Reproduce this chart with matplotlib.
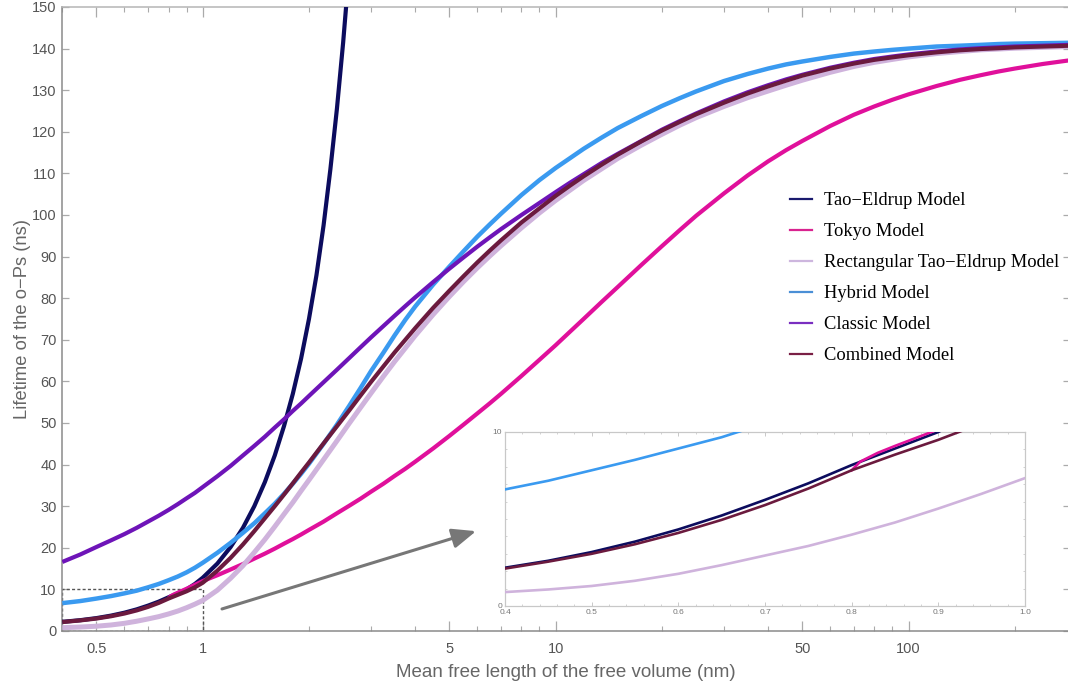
import numpy as np
import matplotlib.pyplot as plt
from matplotlib.lines import Line2D
from matplotlib.patches import Rectangle
from matplotlib.ticker import FixedLocator, FixedFormatter, NullFormatter, MultipleLocator

# mean free length (nm) shared by most of the models
x_nm = [0.4, 0.45, 0.5, 0.55, 0.6, 0.65, 0.7, 0.75, 0.8, 0.85, 0.9, 0.95,
        1.0, 1.1, 1.2, 1.3, 1.4, 1.5, 1.6, 1.7, 1.8, 1.9,
        2.0, 2.2, 2.4, 2.6, 2.8,
        3.0, 3.25, 3.5, 3.75, 4.0, 4.5,
        5.0, 5.5, 6, 6.5, 7, 8, 9,
        10, 11, 12, 13.5, 15, 17.5,
        20, 22.5, 25, 30, 35, 40, 45,
        50, 60, 70, 80, 90,
        100, 120, 140, 160, 180,
        200, 240, 287]

# o-Ps lifetime (ns) per model
hybrid = [6.7, 7.2, 7.8, 8.4, 9.05, 9.7, 10.5, 11.3, 12.2, 13.1, 14.1, 15.2,
          16.4, 18.8, 21.2, 23.6, 25.9, 28.3, 30.6, 33.0, 35.4, 37.8,
          40.2, 45.0, 49.6, 54.1, 58.4,
          62.5, 66.9, 71.1, 74.8, 78.0, 83.3,
          87.6, 91.4, 94.8, 97.7, 100.3, 104.8, 108.4,
          111.3, 113.7, 115.9, 118.6, 120.9, 123.8,
          126.2, 128.1, 129.7, 132.2, 133.9, 135.2, 136.2,
          136.9, 138.0, 138.8, 139.3, 139.7,
          140.0, 140.5, 140.7, 140.9, 141.1,
          141.2, 141.3, 141.4]

classic = [16.6, 18.4, 20.2, 21.8, 23.3, 24.8, 26.3, 27.7, 29.1, 30.5, 31.9, 33.2,
           34.6, 37.2, 39.7, 42.2, 44.5, 46.7, 48.9, 50.9, 52.9, 54.7,
           56.5, 59.8, 62.8, 65.6, 68.2,
           70.6, 73.3, 75.8, 78.1, 80.2, 83.9,
           87.1, 89.9, 92.4, 94.6, 96.6, 100.0, 102.9,
           105.5, 107.8, 109.8, 112.5, 114.7, 117.8,
           120.5, 122.6, 124.4, 127.3, 129.5, 131.2, 132.6,
           133.7, 135.4, 136.6, 137.5, 138.1,
           138.6, 139.3, 139.8, 140.1, 140.3,
           140.5, 140.7, 140.9]

combined = [2.15, 2.55, 3.0, 3.55, 4.2, 4.95, 5.8, 6.75, 7.8, 8.7, 9.55, 10.5,
            11.6, 14.5, 17.6, 20.8, 24.0, 27.1, 30.0, 32.8, 35.5, 38.1,
            40.5, 45.1, 49.2, 53.0, 56.6,
            59.9, 63.6, 67.0, 70.0, 72.8, 77.7,
            81.8, 85.4, 88.6, 91.4, 93.9, 98.2, 101.6,
            104.6, 107.1, 109.3, 112.1, 114.5, 117.7,
            120.3, 122.4, 124.2, 127.0, 129.2, 130.9, 132.3,
            133.5, 135.2, 136.4, 137.3, 137.9,
            138.4, 139.1, 139.6, 139.9, 140.1,
            140.3, 140.5, 140.7]

rect_te = [0.8, 0.95, 1.15, 1.45, 1.85, 2.35, 2.9, 3.45, 4.1, 4.8, 5.6, 6.45,
           7.35, 9.8, 12.7, 15.7, 18.9, 22.0, 25.1, 28.1, 30.9, 33.7,
           36.3, 41.2, 45.7, 49.9, 53.7,
           57.2, 61.2, 64.8, 68.0, 71.0, 76.1,
           80.4, 84.1, 87.3, 90.1, 92.6, 96.9, 100.5,
           103.5, 106.0, 108.3, 111.1, 113.6, 116.8,
           119.4, 121.6, 123.4, 126.1, 128.2, 129.8, 131.2,
           132.4, 134.3, 135.7, 136.7, 137.4,
           138.0, 138.8, 139.3, 139.7, 139.9,
           140.1, 140.3, 140.5]

# tao-eldrup leaves the plot early
x_te = [0.4, 0.45, 0.5, 0.55, 0.6, 0.65, 0.7, 0.75, 0.8, 0.85, 0.9, 0.95,
        1.0, 1.1, 1.2, 1.3, 1.4, 1.5, 1.6, 1.7, 1.8, 1.9,
        2.0, 2.1, 2.2, 2.3, 2.4, 2.5, 2.6]
tao_eldrup = [2.2, 2.6, 3.1, 3.7, 4.4, 5.2, 6.1, 7.05, 8.1, 9.05, 10.0, 11.3,
              12.8, 16.2, 20.2, 24.8, 30.0, 35.8, 42.2, 49.3, 57.0, 65.5,
              75.0, 85.5, 97.5, 111.0, 125.5, 141.5, 159.0]

# tokyo model starts at 0.8 nm
x_tokyo = [0.8, 0.81, 0.83, 0.85, 0.9, 0.95,
           1.0, 1.1, 1.2, 1.3, 1.4, 1.5, 1.6, 1.7, 1.8, 1.9,
           2.0, 2.2, 2.4, 2.6, 2.8,
           3.0, 3.25, 3.5, 3.75, 4.0, 4.5,
           5.0, 5.5, 6, 6.5, 7, 8, 9,
           10, 11, 12, 13.5, 15, 17.5,
           20, 22.5, 25, 30, 35, 40, 45,
           50, 60, 70, 80, 90,
           100, 120, 140, 160, 180,
           200, 240, 287]
tokyo = [7.8, 8.3, 8.8, 9.2, 10.15, 11.1,
         12.0, 13.4, 14.8, 16.1, 17.4, 18.6, 19.8, 21.0, 22.1, 23.2,
         24.3, 26.3, 28.3, 30.1, 31.8,
         33.5, 35.4, 37.3, 39.0, 40.7, 43.9,
         46.9, 49.7, 52.3, 54.7, 57.0, 61.3, 65.2,
         68.7, 72.0, 75.0, 79.1, 82.7, 88.0,
         92.5, 96.4, 99.8, 105.2, 109.5, 112.9, 115.6,
         117.8, 121.4, 124.1, 126.1, 127.7,
         129.0, 131.0, 132.5, 133.6, 134.5,
         135.2, 136.3, 137.2]

x_major = [0.5, 1, 5, 10, 50, 100]
x_major_labels = ["0.5", "1", "5", "10", "50", "100"]
x_minor = [0.4, 0.6, 0.7, 0.8, 0.9, 2, 3, 4, 6, 7, 8, 9,
           20, 30, 40, 60, 70, 80, 90, 200]

models = [
    ("Tao\u2212Eldrup Model", x_te, tao_eldrup, "#0c0c5e", 3.0),
    ("Tokyo Model", x_tokyo, tokyo, "#e0109b", 3.0),
    ("Rectangular Tao\u2212Eldrup Model", x_nm, rect_te, "#cfb3dc", 3.6),
    ("Hybrid Model", x_nm, hybrid, "#3a9af0", 3.2),
    ("Classic Model", x_nm, classic, "#6e14b8", 3.0),
    ("Combined Model", x_nm, combined, "#6b1a3e", 3.0),
]
legend_colors = ["#1a1a6e", "#d9238f", "#cdb6de", "#4a8fd6", "#7a2ec0", "#7a1f45"]

grey = "#666666"
plt.rcParams["font.family"] = ["Liberation Sans", "DejaVu Sans"]

fig = plt.figure(figsize=(10.68, 6.88), dpi=100)
W, H = 1068, 688
ax = fig.add_axes([62.3 / W, (H - 631) / H, (1070.1 - 62.3) / W, (631 - 7) / H])

for name, xs, ys, col, lw in models:
    ax.plot(xs, ys, color=col, lw=lw, solid_capstyle="butt",
            solid_joinstyle="round", zorder=3)

ax.set_xscale("log")
ax.set_xlim(0.4, 287)
ax.set_ylim(0, 150)

ax.xaxis.set_major_locator(FixedLocator(x_major))
ax.xaxis.set_major_formatter(FixedFormatter(x_major_labels))
ax.xaxis.set_minor_locator(FixedLocator(x_minor))
ax.xaxis.set_minor_formatter(NullFormatter())
ax.yaxis.set_major_locator(MultipleLocator(10))
ax.yaxis.set_minor_locator(FixedLocator([]))

ax.tick_params(which="both", direction="in", top=True, right=True,
               color="#aaaaaa", labelcolor="#555555", labelsize=10.5)
ax.tick_params(axis="x", which="major", length=7, width=0.9, pad=8)
ax.tick_params(axis="x", which="minor", length=3.8, width=0.8)
ax.tick_params(axis="y", which="major", length=5, width=0.9, pad=4)

for s in ["left", "bottom"]:
    ax.spines[s].set_color("#8a8a8a")
    ax.spines[s].set_linewidth(1.1)
for s in ["top", "right"]:
    ax.spines[s].set_color("#b5b5b5")
    ax.spines[s].set_linewidth(1.1)

ax.set_xlabel("Mean free length of the free volume (nm)", fontsize=13.5, color=grey)
ax.set_ylabel("Lifetime of the o\u2212Ps (ns)", fontsize=13.2, color=grey)
ax.xaxis.set_label_coords(0.5, -0.053)
ax.yaxis.set_label_coords(-0.031, 0.5)

# dashed frame around the zoomed region
ax.add_patch(Rectangle((0.4, 0), 0.6, 10, fill=False, ls=(0, (2.2, 1.6)),
                       lw=1.0, ec="#555555", zorder=2))

# arrow pointing to the inset
ax.annotate("", xy=(5.95, 24.0), xytext=(1.134, 5.3),
            arrowprops=dict(arrowstyle="-|>,head_length=1.45,head_width=0.6",
                            color="#777777", lw=2.2, shrinkA=0, shrinkB=0),
            zorder=4)

handles = [Line2D([], [], color=c, lw=1.6) for c in legend_colors]
labels = [m[0] for m in models]
fig.legend(handles, labels, loc="upper left", bbox_to_anchor=(790 / W, 1 - 192 / H),
           frameon=False, borderpad=0, borderaxespad=0, handlelength=1.19,
           handletextpad=0.65, labelspacing=0.76,
           prop={"family": "Liberation Serif", "size": 13.3})

# inset with the small-length region
axin = fig.add_axes([505 / W, (H - 606) / H, 520 / W, 174 / H])
for name, xs, ys, col, lw in models:
    axin.plot(xs, ys, color=col, lw=1.9, zorder=3)
axin.set_xlim(0.4, 1.0)
axin.set_ylim(0, 10)
axin.xaxis.set_major_locator(MultipleLocator(0.1))
axin.xaxis.set_minor_locator(MultipleLocator(0.02))
axin.xaxis.set_major_formatter(plt.FuncFormatter(lambda v, p: f"{v:.1f}"))
axin.yaxis.set_major_locator(FixedLocator([0, 10]))
axin.yaxis.set_minor_locator(MultipleLocator(1))
axin.tick_params(which="both", direction="in", top=True, right=True,
                 color="#c0c0c0", labelcolor="#777777", labelsize=6)
axin.tick_params(which="major", length=3, width=0.6, pad=2)
axin.tick_params(which="minor", length=1.6, width=0.5)
for s in axin.spines.values():
    s.set_color("#c8c8c8")
    s.set_linewidth(0.9)

fig.savefig("out.png", dpi=100)
